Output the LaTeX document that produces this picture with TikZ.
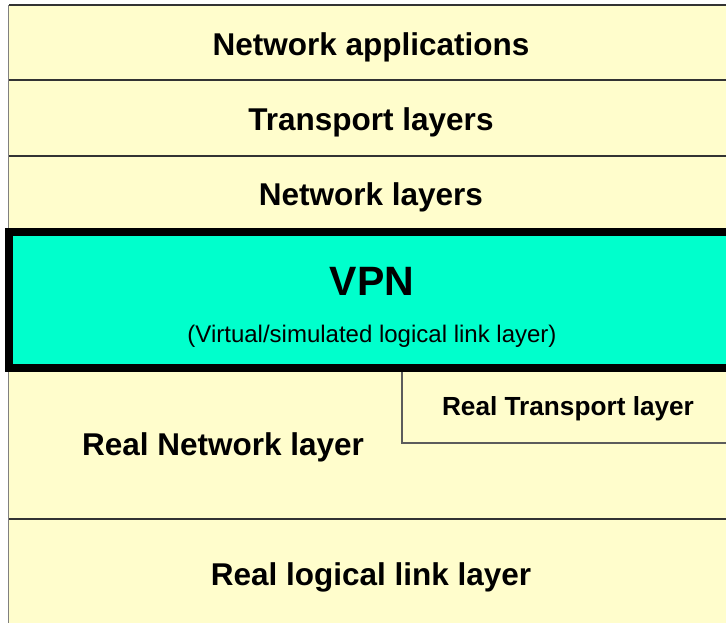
\documentclass[tikz,border=0pt]{standalone}
\usepackage{fontspec}
\setmainfont{Liberation Sans}
\definecolor{layeryellow}{HTML}{FFFDCC}
\definecolor{vpncyan}{HTML}{00FFCC}
\definecolor{lineclr}{HTML}{333333}
\definecolor{edgegray}{HTML}{808080}
\tikzset{
  sep/.style={draw=lineclr, line width=1.5pt},
  lbl/.style={font=\fontsize{31.5}{36}\selectfont\bfseries, inner sep=0pt, anchor=base},
}
\begin{document}
\begin{tikzpicture}[x=1pt,y=-1pt]
\useasboundingbox (0,0) rectangle (726,622);
\clip (0,0) rectangle (726,622);
\fill[layeryellow] (9,5) rectangle (740,640);
\draw[edgegray, line width=1.5pt] (8.5,5) -- (8.5,640);
\draw[sep] (9,5) -- (740,5);
\draw[sep] (9,80) -- (740,80);
\draw[sep] (9,156) -- (740,156);
\draw[draw=lineclr!80, line width=1.2pt] (402,368) -- (402,443) -- (740,443);
\draw[sep] (9,519) -- (740,519);
\draw[black, line width=8pt, fill=vpncyan] (9,232) rectangle (745,368);
\node[lbl] (apps) at (371,55) {Network applications};
\node[lbl] (trans) at (371,130) {Transport layers};
\node[lbl] (net) at (371,205) {Network layers};
\node[inner sep=0pt, anchor=base, font=\fontsize{41}{46}\selectfont\bfseries] (vpn) at (372,295) {VPN};
\node[inner sep=0pt, anchor=base, font=\fontsize{24}{28}\selectfont] (vpnsub) at (372,342) {(Virtual/simulated logical link layer)};
\node[inner sep=0pt, anchor=base, font=\fontsize{26.2}{30}\selectfont\bfseries] (rtrans) at (568,415) {Real Transport layer};
\node[lbl] (rnet) at (223,455) {Real Network layer};
\node[lbl] (rlink) at (371,585) {Real logical link layer};
\end{tikzpicture}
\end{document}
